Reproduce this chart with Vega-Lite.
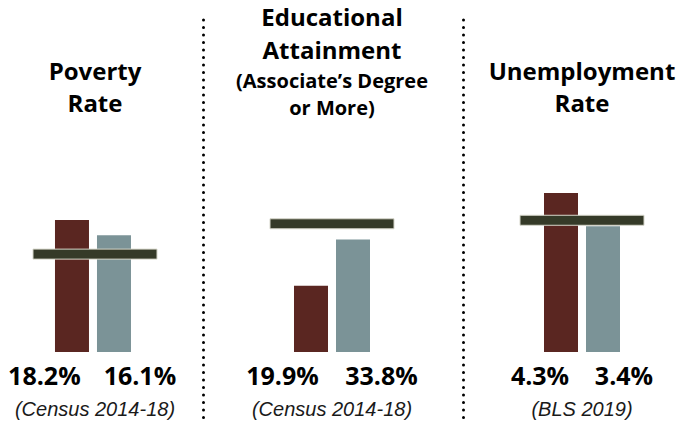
{
  "$schema": "https://vega.github.io/schema/vega-lite/v6.json",
  "autosize": {"type": "pad"},
  "padding": {"left": 8, "top": 7, "right": 5, "bottom": 5},
  "background": "white",
  "bounds": "flush",
  "spacing": 113,
  "config": {"view": {"stroke": null}},
  "datasets": {
    "bars": [
      {"metric": "Poverty", "group": "Region", "value": 18.2, "label": "18.2%"},
      {"metric": "Poverty", "group": "State", "value": 16.1, "label": "16.1%"},
      {"metric": "Education", "group": "Region", "value": 19.9, "label": "19.9%"},
      {"metric": "Education", "group": "State", "value": 33.8, "label": "33.8%"},
      {"metric": "Unemployment", "group": "Region", "value": 4.3, "label": "4.3%"},
      {"metric": "Unemployment", "group": "State", "value": 3.4, "label": "3.4%"}
    ],
    "panels": [
      {"metric": "Poverty", "benchmark": 13.5, "source": "(Census 2014-18)"},
      {"metric": "Education", "benchmark": 38.5, "source": "(Census 2014-18)"},
      {"metric": "Unemployment", "benchmark": 3.56, "source": "(BLS 2019)"}
    ]
  },
  "hconcat": [
    {
      "width": 124,
      "height": 402,
      "title": {"text": ["Poverty", "Rate"], "frame": "group", "anchor": "middle", "offset": -102, "font": "Open Sans", "fontSize": 24, "fontWeight": "bold", "lineHeight": 32, "color": "#000000"},
      "resolve": {"scale": {"x": "independent"}},
      "layer": [
        {
          "data": {"name": "bars"},
          "transform": [{"filter": "datum.metric === 'Poverty'"}],
          "mark": {"type": "bar"},
          "encoding": {
            "x": {"field": "group", "type": "nominal", "scale": {"paddingInner": 0.1905, "paddingOuter": 0.5714, "align": 0.458}, "axis": null},
            "y": {"field": "value", "type": "quantitative", "scale": {"domain": [-8.966, 46.48], "nice": false, "zero": false}, "axis": null},
            "color": {"field": "group", "type": "nominal", "scale": {"domain": ["Region", "State"], "range": ["#5a2621", "#7b9397"]}, "legend": null}
          }
        },
        {
          "data": {"name": "panels"},
          "transform": [{"filter": "datum.metric === 'Poverty'"}],
          "mark": {"type": "tick", "size": 124, "thickness": 10, "color": "#353a28", "stroke": "#d6d6ca", "strokeWidth": 1, "opacity": 1},
          "encoding": {"y": {"field": "benchmark", "type": "quantitative", "axis": null}}
        },
        {
          "data": {"name": "bars"},
          "transform": [{"filter": "datum.metric === 'Poverty'"}],
          "mark": {"type": "text", "dy": 33, "baseline": "alphabetic", "font": "Open Sans", "fontSize": 25, "fontWeight": "bold", "color": "#000000"},
          "encoding": {
            "x": {"field": "group", "type": "nominal", "scale": {"type": "point", "padding": 0.149, "align": 0.4}, "axis": null},
            "y": {"datum": 0, "type": "quantitative", "axis": null},
            "text": {"field": "label"}
          }
        },
        {
          "data": {"name": "panels"},
          "transform": [{"filter": "datum.metric === 'Poverty'"}],
          "mark": {"type": "text", "dy": 64, "baseline": "alphabetic", "font": "Liberation Sans", "fontSize": 20, "fontStyle": "italic", "color": "#1a1a1a"},
          "encoding": {
            "y": {"datum": 0, "type": "quantitative", "axis": null},
            "text": {"field": "source"}
          }
        }
      ]
    },
    {
      "width": 124,
      "height": 402,
      "title": {"text": ["Educational", "Attainment"], "subtitle": ["(Associate’s Degree", "or More)"], "frame": "group", "anchor": "middle", "offset": -104, "font": "Open Sans", "fontSize": 24, "fontWeight": "bold", "lineHeight": 33, "color": "#000000", "subtitleFont": "Open Sans", "subtitleFontSize": 20, "subtitleFontWeight": "bold", "subtitleLineHeight": 27, "subtitleColor": "#000000", "subtitlePadding": 8},
      "resolve": {"scale": {"x": "independent"}},
      "layer": [
        {
          "data": {"name": "bars"},
          "transform": [{"filter": "datum.metric === 'Education'"}],
          "mark": {"type": "bar"},
          "encoding": {
            "x": {"field": "group", "type": "nominal", "scale": {"paddingInner": 0.1905, "paddingOuter": 0.5714}, "axis": null},
            "y": {"field": "value", "type": "quantitative", "scale": {"domain": [-19.52, 101.2], "nice": false, "zero": false}, "axis": {"orient": "left", "offset": 67, "domain": true, "domainDash": [0, 7.5], "domainCap": "round", "domainWidth": 3, "domainColor": "#000000", "ticks": false, "labels": false, "grid": false, "title": null}},
            "color": {"field": "group", "type": "nominal", "scale": {"domain": ["Region", "State"], "range": ["#5a2621", "#7b9397"]}, "legend": null}
          }
        },
        {
          "data": {"name": "panels"},
          "transform": [{"filter": "datum.metric === 'Education'"}],
          "mark": {"type": "tick", "size": 124, "thickness": 10, "color": "#353a28", "stroke": "#d6d6ca", "strokeWidth": 1, "opacity": 1},
          "encoding": {"y": {"field": "benchmark", "type": "quantitative", "axis": {"orient": "left", "offset": 67, "domain": true, "domainDash": [0, 7.5], "domainCap": "round", "domainWidth": 3, "domainColor": "#000000", "ticks": false, "labels": false, "grid": false, "title": null}}}
        },
        {
          "data": {"name": "bars"},
          "transform": [{"filter": "datum.metric === 'Education'"}],
          "mark": {"type": "text", "dy": 33, "baseline": "alphabetic", "font": "Open Sans", "fontSize": 25, "fontWeight": "bold", "color": "#000000"},
          "encoding": {
            "x": {"field": "group", "type": "nominal", "scale": {"type": "point", "padding": 0.1263, "align": 0.5}, "axis": null},
            "y": {"datum": 0, "type": "quantitative", "axis": {"orient": "left", "offset": 67, "domain": true, "domainDash": [0, 7.5], "domainCap": "round", "domainWidth": 3, "domainColor": "#000000", "ticks": false, "labels": false, "grid": false, "title": null}},
            "text": {"field": "label"}
          }
        },
        {
          "data": {"name": "panels"},
          "transform": [{"filter": "datum.metric === 'Education'"}],
          "mark": {"type": "text", "dy": 64, "baseline": "alphabetic", "font": "Liberation Sans", "fontSize": 20, "fontStyle": "italic", "color": "#1a1a1a"},
          "encoding": {
            "y": {"datum": 0, "type": "quantitative", "axis": {"orient": "left", "offset": 67, "domain": true, "domainDash": [0, 7.5], "domainCap": "round", "domainWidth": 3, "domainColor": "#000000", "ticks": false, "labels": false, "grid": false, "title": null}},
            "text": {"field": "source"}
          }
        }
      ]
    },
    {
      "width": 150,
      "height": 402,
      "title": {"text": ["Unemployment", "Rate"], "frame": "group", "anchor": "middle", "offset": -102, "font": "Open Sans", "fontSize": 24, "fontWeight": "bold", "lineHeight": 32, "color": "#000000"},
      "resolve": {"scale": {"x": "independent"}},
      "layer": [
        {
          "data": {"name": "bars"},
          "transform": [{"filter": "datum.metric === 'Unemployment'"}],
          "mark": {"type": "bar"},
          "encoding": {
            "x": {"field": "group", "type": "nominal", "scale": {"paddingInner": 0.1905, "paddingOuter": 0.881}, "axis": null},
            "y": {"field": "value", "type": "quantitative", "scale": {"domain": [-1.757, 9.108], "nice": false, "zero": false}, "axis": {"orient": "left", "offset": 44, "domain": true, "domainDash": [0, 7.5], "domainCap": "round", "domainWidth": 3, "domainColor": "#000000", "ticks": false, "labels": false, "grid": false, "title": null}},
            "color": {"field": "group", "type": "nominal", "scale": {"domain": ["Region", "State"], "range": ["#5a2621", "#7b9397"]}, "legend": null}
          }
        },
        {
          "data": {"name": "panels"},
          "transform": [{"filter": "datum.metric === 'Unemployment'"}],
          "mark": {"type": "tick", "size": 124, "thickness": 10, "color": "#353a28", "stroke": "#d6d6ca", "strokeWidth": 1, "opacity": 1},
          "encoding": {"y": {"field": "benchmark", "type": "quantitative", "axis": {"orient": "left", "offset": 44, "domain": true, "domainDash": [0, 7.5], "domainCap": "round", "domainWidth": 3, "domainColor": "#000000", "ticks": false, "labels": false, "grid": false, "title": null}}}
        },
        {
          "data": {"name": "bars"},
          "transform": [{"filter": "datum.metric === 'Unemployment'"}],
          "mark": {"type": "text", "dy": 33, "baseline": "alphabetic", "font": "Open Sans", "fontSize": 25, "fontWeight": "bold", "color": "#000000"},
          "encoding": {
            "x": {"field": "group", "type": "nominal", "scale": {"type": "point", "padding": 0.393, "align": 0.5}, "axis": null},
            "y": {"datum": 0, "type": "quantitative", "axis": {"orient": "left", "offset": 44, "domain": true, "domainDash": [0, 7.5], "domainCap": "round", "domainWidth": 3, "domainColor": "#000000", "ticks": false, "labels": false, "grid": false, "title": null}},
            "text": {"field": "label"}
          }
        },
        {
          "data": {"name": "panels"},
          "transform": [{"filter": "datum.metric === 'Unemployment'"}],
          "mark": {"type": "text", "dy": 64, "baseline": "alphabetic", "font": "Liberation Sans", "fontSize": 20, "fontStyle": "italic", "color": "#1a1a1a"},
          "encoding": {
            "y": {"datum": 0, "type": "quantitative", "axis": {"orient": "left", "offset": 44, "domain": true, "domainDash": [0, 7.5], "domainCap": "round", "domainWidth": 3, "domainColor": "#000000", "ticks": false, "labels": false, "grid": false, "title": null}},
            "text": {"field": "source"}
          }
        }
      ]
    }
  ]
}
